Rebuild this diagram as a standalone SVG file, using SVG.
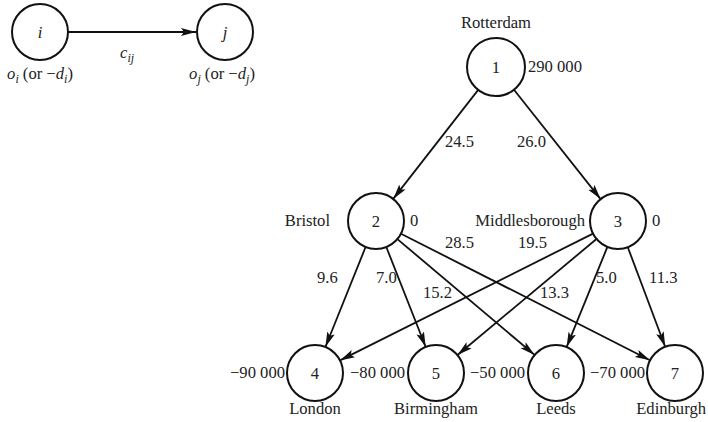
<svg xmlns="http://www.w3.org/2000/svg" width="708" height="422" viewBox="0 0 708 422">
<style>
.n{fill:#fff;stroke:#111;stroke-width:2}
.e{stroke:#111;stroke-width:1.8;fill:none}
text{font-family:"Liberation Serif","Times New Roman",serif;font-size:16.6px;fill:#222}
.c{text-anchor:middle}
.r{text-anchor:end}
.it{font-style:italic}
</style>
<defs>
<marker id="ah" markerUnits="userSpaceOnUse" markerWidth="16" markerHeight="12" refX="15" refY="5" orient="auto">
<path d="M0,1 L15,5 L0,9 L3,5 z" fill="#111"/>
</marker>
</defs>
<rect width="708" height="422" fill="#fff"/>
<g id="connectors">
<line class="e" x1="68" y1="32" x2="196" y2="32" marker-end="url(#ah)"/>
<line class="e" x1="478.2" y1="89.9" x2="393.2" y2="198.9" marker-end="url(#ah)"/>
<line class="e" x1="514.0" y1="89.7" x2="600.6" y2="199.1" marker-end="url(#ah)"/>
<line class="e" x1="365.6" y1="247.0" x2="325.4" y2="347.0" marker-end="url(#ah)"/>
<line class="e" x1="386.3" y1="247.0" x2="425.7" y2="347.0" marker-end="url(#ah)"/>
<line class="e" x1="397.4" y1="239.1" x2="534.6" y2="354.9" marker-end="url(#ah)"/>
<line class="e" x1="401.0" y1="233.7" x2="650.0" y2="360.3" marker-end="url(#ah)"/>
<line class="e" x1="593.0" y1="233.6" x2="340.0" y2="360.4" marker-end="url(#ah)"/>
<line class="e" x1="596.5" y1="239.0" x2="457.5" y2="355.0" marker-end="url(#ah)"/>
<line class="e" x1="607.4" y1="246.9" x2="566.6" y2="347.1" marker-end="url(#ah)"/>
<line class="e" x1="627.8" y1="247.2" x2="665.2" y2="346.8" marker-end="url(#ah)"/>
<text x="120" y="58" class="it">c<tspan font-size="12" dy="4">ij</tspan></text>
<text x="445" y="147">24.5</text>
<text x="517" y="147">26.0</text>
<text x="445" y="248">28.5</text>
<text x="518" y="248">19.5</text>
<text x="317" y="283">9.6</text>
<text x="376" y="283">7.0</text>
<text x="423" y="298">15.2</text>
<text x="540" y="298">13.3</text>
<text x="596" y="283">5.0</text>
<text x="649" y="283">11.3</text>
</g>
<g id="node-i">
<circle class="n" cx="40" cy="32" r="28"/>
<text x="40" y="38" class="c it">i</text>
<text x="40" y="79" class="c"><tspan class="it">o</tspan><tspan font-size="12" dy="4" class="it">i</tspan><tspan dy="-4"> (or −</tspan><tspan class="it">d</tspan><tspan font-size="12" dy="4" class="it">i</tspan><tspan dy="-4">)</tspan></text>
</g>
<g id="node-j">
<circle class="n" cx="225" cy="32" r="28"/>
<text x="225" y="38" class="c it">j</text>
<text x="222" y="79" class="c"><tspan class="it">o</tspan><tspan font-size="12" dy="4" class="it">j</tspan><tspan dy="-4"> (or −</tspan><tspan class="it">d</tspan><tspan font-size="12" dy="4" class="it">j</tspan><tspan dy="-4">)</tspan></text>
</g>
<g id="node-1">
<circle class="n" cx="496" cy="67" r="29"/>
<text x="496" y="73" class="c">1</text>
<text x="496" y="28" class="c">Rotterdam</text>
<text x="528" y="72">290 000</text>
</g>
<g id="node-2">
<circle class="n" cx="376" cy="221" r="28"/>
<text x="376" y="227" class="c">2</text>
<text x="330" y="226" class="r">Bristol</text>
<text x="410" y="226">0</text>
</g>
<g id="node-3">
<circle class="n" cx="618" cy="221" r="28"/>
<text x="618" y="227" class="c">3</text>
<text x="585" y="226" class="r">Middlesborough</text>
<text x="652" y="226">0</text>
</g>
<g id="node-4">
<circle class="n" cx="315" cy="373" r="28"/>
<text x="315" y="379" class="c">4</text>
<text x="285" y="378" class="r">−90 000</text>
<text x="315" y="414" class="c">London</text>
</g>
<g id="node-5">
<circle class="n" cx="436" cy="373" r="28"/>
<text x="436" y="379" class="c">5</text>
<text x="405" y="378" class="r">−80 000</text>
<text x="436" y="414" class="c">Birmingham</text>
</g>
<g id="node-6">
<circle class="n" cx="556" cy="373" r="28"/>
<text x="556" y="379" class="c">6</text>
<text x="525" y="378" class="r">−50 000</text>
<text x="556" y="414" class="c">Leeds</text>
</g>
<g id="node-7">
<circle class="n" cx="675" cy="373" r="28"/>
<text x="675" y="379" class="c">7</text>
<text x="645" y="378" class="r">−70 000</text>
<text x="706" y="414" class="r">Edinburgh</text>
</g>
</svg>
